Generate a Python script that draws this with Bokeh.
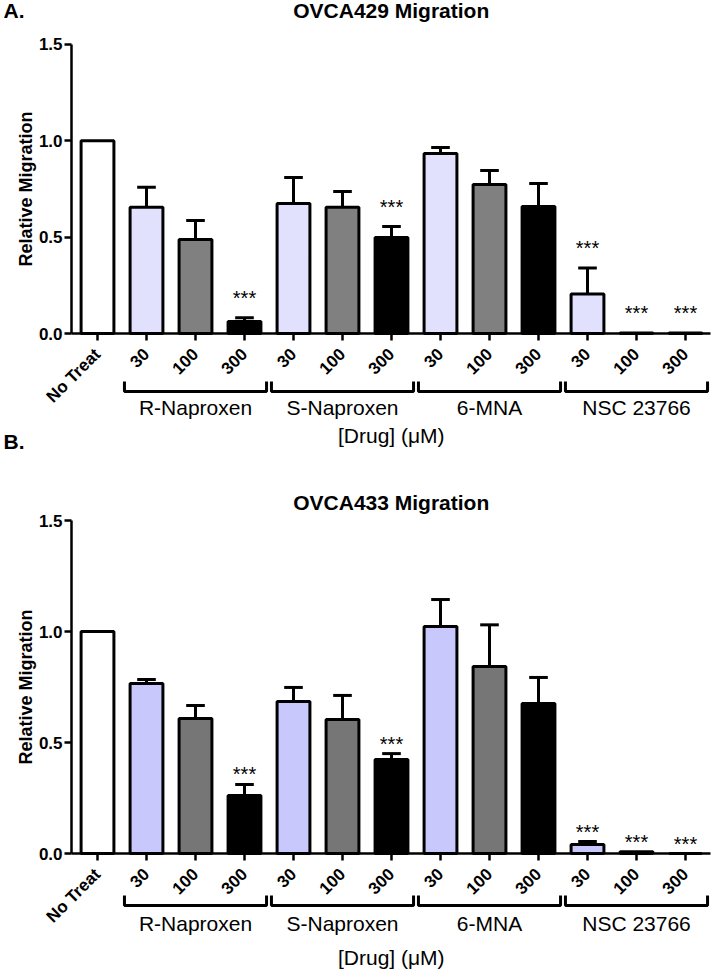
from math import pi
from bokeh.plotting import figure
from bokeh.models import Range1d, FixedTicker, Label, NumeralTickFormatter, ColumnDataSource
from bokeh.layouts import column
from bokeh.embed import file_html
from bokeh.resources import INLINE
from bokeh.core.properties import value

# ---------------- data ----------------
tick_labels = ["No Treat", "30", "100", "300", "30", "100", "300",
               "30", "100", "300", "30", "100", "300"]
doses = ["none", "30", "100", "300", "30", "100", "300",
         "30", "100", "300", "30", "100", "300"]
groups = ["R-Naproxen", "S-Naproxen", "6-MNA", "NSC 23766"]
group_members = [[1, 2, 3], [4, 5, 6], [7, 8, 9], [10, 11, 12]]

a_title = "OVCA429 Migration"
a_mean = [1.00, 0.655, 0.488, 0.062, 0.675, 0.655, 0.498, 0.934, 0.773, 0.659, 0.205, 0.003, 0.003]
a_err = [0.0, 0.104, 0.098, 0.020, 0.135, 0.082, 0.057, 0.031, 0.073, 0.120, 0.135, 0.0, 0.0]
a_sig = [False, False, False, True, False, False, True, False, False, False, True, True, True]

b_title = "OVCA433 Migration"
b_mean = [1.00, 0.766, 0.608, 0.261, 0.685, 0.604, 0.423, 1.022, 0.842, 0.676, 0.040, 0.008, 0.0]
b_err = [0.0, 0.018, 0.059, 0.050, 0.063, 0.108, 0.027, 0.122, 0.188, 0.117, 0.014, 0.0, 0.0]
b_sig = [False, False, False, True, False, False, True, False, False, False, True, True, True]

y_ticks = [0.0, 0.5, 1.0, 1.5]

FONT = "Liberation Sans"
W = 711
X0_PX = 97.0      # pixel of first category
X_STEP = 49.0     # pixels per category
XLO, XHI = -0.53, 12.52   # axis extent in category units


def xd(px):
    return (px - X0_PX) / X_STEP


def make_panel(letter, title, mean, err, sig, light, gray, height, zero_px, scale,
               title_up, bracket_dn, group_dn, drug_dn, star_up, extra=None):
    ytop = zero_px / scale
    ybot = -(height - zero_px) / scale
    p = figure(width=W, height=height, x_range=Range1d(xd(0), xd(W)),
               y_range=Range1d(ybot, ytop), output_backend="svg",
               toolbar_location=None, min_border_left=0, min_border_right=0,
               min_border_top=0, min_border_bottom=0)
    p.outline_line_color = None
    p.grid.visible = False
    p.background_fill_color = "white"

    # y axis (fixed at the left end of the x extent)
    ya = p.yaxis[0]
    ya.fixed_location = XLO
    ya.bounds = (0, 1.5)
    ya.ticker = FixedTicker(ticks=y_ticks)
    ya.formatter = NumeralTickFormatter(format="0.0")
    ya.minor_tick_line_color = None
    ya.major_tick_in = 0
    ya.major_tick_out = 7
    ya.axis_line_width = 2.5
    ya.major_tick_line_width = 2.5
    ya.major_label_text_font = FONT
    ya.major_label_text_font_style = "bold"
    ya.major_label_text_font_size = "17px"
    ya.major_label_text_color = "black"
    ya.major_label_standoff = 2

    # x axis at y=0
    xa = p.xaxis[0]
    xa.fixed_location = 0
    xa.bounds = (XLO, XHI)
    xa.ticker = FixedTicker(ticks=list(range(len(tick_labels))))
    xa.major_label_overrides = {i: t for i, t in enumerate(tick_labels)}
    xa.major_label_orientation = pi / 4
    xa.minor_tick_line_color = None
    xa.major_tick_in = 0
    xa.major_tick_out = 7
    xa.axis_line_width = 2.5
    xa.major_tick_line_width = 2.5
    xa.major_label_text_font = FONT
    xa.major_label_text_font_style = "bold"
    xa.major_label_text_font_size = "17px"
    xa.major_label_text_color = "black"
    xa.major_label_standoff = 11

    colors = {"none": "white", "30": light, "100": gray, "300": "black"}
    xs = list(range(len(mean)))
    src = ColumnDataSource(dict(x=xs, top=mean, color=[colors[d] for d in doses]))
    p.vbar(x="x", top="top", bottom=0, width=0.67, fill_color="color",
           line_color="black", line_width=3, source=src)

    ex = [x for x, e in zip(xs, err) if e > 0]
    elo = [m for m, e in zip(mean, err) if e > 0]
    ehi = [m + e for m, e in zip(mean, err) if e > 0]
    p.segment(x0=ex, y0=elo, x1=ex, y1=ehi, line_color="black", line_width=3)
    p.segment(x0=[x - 0.19 for x in ex], y0=ehi, x1=[x + 0.19 for x in ex], y1=ehi,
              line_color="black", line_width=3)

    sx = [x for x, s in zip(xs, sig) if s]
    sy = [m + e + star_up / scale for m, e, s in zip(mean, err, sig) if s]
    p.text(x=sx, y=sy, text=["***"] * len(sx), text_align="center",
           text_baseline="middle", text_font=value(FONT), text_font_size="20px",
           text_color="black")

    # group brackets
    bxs, bys, gx = [], [], []
    for mem in group_members:
        x0, x1 = mem[0] - 0.45, mem[-1] + 0.45
        bxs.append([x0, x0, x1, x1])
        yb = -bracket_dn / scale
        ye = -(bracket_dn - 10) / scale
        bys.append([ye, yb, yb, ye])
        gx.append((mem[0] + mem[-1]) / 2)
    p.multi_line(xs=bxs, ys=bys, line_color="black", line_width=3)
    p.text(x=gx, y=[-group_dn / scale] * len(gx), text=groups, text_align="center",
           text_baseline="middle", text_font=value(FONT), text_font_size="21px",
           text_color="black")

    xc = (XLO + XHI) / 2
    p.add_layout(Label(x=xc, y=title_up / scale, text=title, text_align="center",
                       text_baseline="middle", text_font=FONT, text_font_style="bold",
                       text_font_size="21px", text_color="black"))
    if letter:
        p.add_layout(Label(x=xd(3), y=title_up / scale, text=letter, text_align="left",
                           text_baseline="middle", text_font=FONT, text_font_style="bold",
                           text_font_size="21px", text_color="black"))
    p.add_layout(Label(x=xd(25), y=0.75, text="Relative Migration", angle=pi / 2,
                       text_align="center", text_baseline="middle", text_font=FONT,
                       text_font_style="bold", text_font_size="18px", text_color="black"))
    p.add_layout(Label(x=xc, y=-drug_dn / scale, text="[Drug] (\u03bcM)",
                       text_align="center", text_baseline="middle", text_font=FONT,
                       text_font_size="21px", text_color="black"))
    if extra is not None:
        txt, dn = extra
        p.add_layout(Label(x=xd(3), y=-dn / scale, text=txt, text_align="left",
                           text_baseline="middle", text_font=FONT, text_font_style="bold",
                           text_font_size="21px", text_color="black"))
    return p


pa = make_panel("A.", a_title, a_mean, a_err, a_sig, "#e1e1fe", "#808080",
                height=460, zero_px=333, scale=192.67,
                title_up=323, bracket_dn=58, group_dn=74, drug_dn=102, star_up=20,
                extra=("B.", 108))
pb = make_panel("", b_title, b_mean, b_err, b_sig, "#c8c8fc", "#767676",
                height=514, zero_px=393, scale=222.0,
                title_up=351, bracket_dn=52, group_dn=70, drug_dn=104, star_up=10)

layout = column(pa, pb, spacing=0)
open("out.html", "w").write(file_html(layout, INLINE))
